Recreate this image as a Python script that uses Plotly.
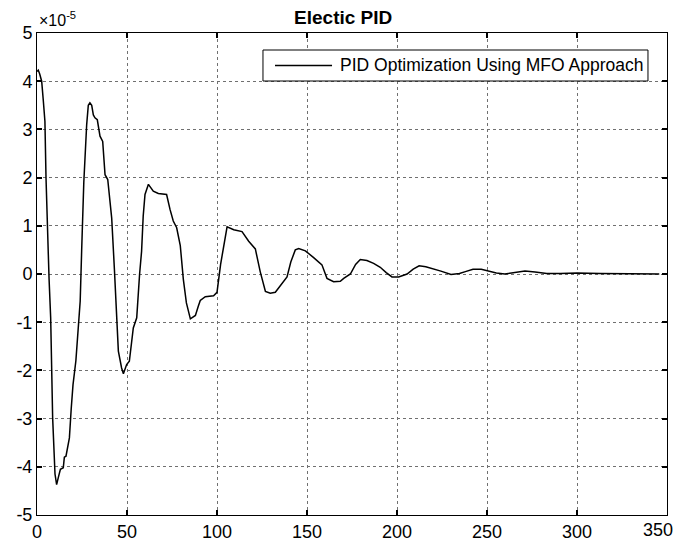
import plotly.graph_objects as go

SCALE_LABEL = "×10<sup>-5</sup>"
SERIES_NAME = "PID Optimization Using MFO Approach"
TITLE = "Electic PID"
t = [0, 0.7, 1.5, 2.6, 3.5, 4.4, 5.0, 5.7, 6.7, 7.6, 8.7, 10.0, 10.9, 12.0, 13.0, 14.6, 15.2, 16.1,
     18.0, 19.0, 20.0, 21.6, 23.0, 24.0, 24.8, 26.0, 27.6, 28.5, 29.4, 30.4, 31.3, 32.2, 33.5, 35.0,
     36.5, 37.8, 39.3, 41.5, 43.0, 45.2, 47.0, 48.0, 49.8, 51.3, 53.5, 55.4, 57.0, 58.1, 59.0, 60.0,
     61.9, 64.6, 67.4, 72.0, 73.9, 75.7, 77.6, 79.6, 81.3, 83.0, 85.2, 86.5, 88.0, 89.6, 90.7, 93.5,
     96.0, 98.1, 100.0, 102.0, 105.6, 109.3, 113.9, 117.6, 121.3, 124.0, 126.9, 129.6, 132.4, 135.2,
     138.9, 141.0, 143.5, 145.4, 149.1, 153.7, 158.3, 161.1, 164.8, 168.5, 170.4, 174.1, 177.0, 179.6,
     183.3, 187.0, 190.7, 194.0, 197.2, 200.9, 205.6, 209.0, 212.3, 216.0, 220.0, 224.4, 230.0, 234.7,
     238.0, 242.2, 246.8, 250.6, 255.2, 259.9, 264.6, 271.1, 276.7, 283.2, 290.7, 300.0, 313.0, 331.7,
     345.7]
y = [4.2, 4.23, 4.15, 4.0, 3.6, 3.17, 2.0, 0.89, -0.1, -0.91, -2.99, -4.15, -4.37, -4.2, -4.05, -4.02,
     -3.8, -3.78, -3.4, -2.8, -2.3, -1.8, -1.0, -0.56, 0.47, 1.9, 3.1, 3.5, 3.55, 3.5, 3.3, 3.24, 3.2,
     2.86, 2.75, 2.06, 1.96, 1.16, 0.1, -1.6, -1.95, -2.07, -1.88, -1.81, -1.12, -0.91, 0.0, 0.47, 1.2,
     1.65, 1.86, 1.72, 1.67, 1.65, 1.34, 1.1, 0.96, 0.59, -0.11, -0.6, -0.93, -0.9, -0.86, -0.67, -0.55,
     -0.47, -0.46, -0.45, -0.38, 0.2, 0.98, 0.92, 0.88, 0.68, 0.52, 0.05, -0.36, -0.4, -0.38, -0.24,
     -0.06, 0.25, 0.5, 0.53, 0.48, 0.34, 0.19, -0.09, -0.16, -0.15, -0.09, 0.0, 0.2, 0.3, 0.28, 0.22,
     0.14, 0.03, -0.06, -0.06, 0.0, 0.1, 0.17, 0.15, 0.11, 0.06, -0.01, 0.01, 0.05, 0.10, 0.10, 0.07,
     0.02, 0.0, 0.03, 0.06, 0.04, 0.01, 0.01, 0.02, 0.01, 0.01, 0.0]
x_ticks = [0, 50, 100, 150, 200, 250, 300, 350]
x_tick_labels = ["0", "50", "100", "150", "200", "250", "300", "350"]
y_ticks = [-5, -4, -3, -2, -1, 0, 1, 2, 3, 4, 5]
y_tick_labels = ["-5", "-4", "-3", "-2", "-1", "0", "1", "2", "3", "4", "5"]

FONT = "Liberation Sans, Arial, sans-serif"

fig = go.Figure()
fig.add_trace(go.Scatter(x=t, y=y, mode="lines", line=dict(color="black", width=1.5),
                         name=SERIES_NAME, showlegend=False))

axis_common = dict(showline=True, linecolor="black", linewidth=1, mirror="ticks",
                   ticks="inside", ticklen=5, tickcolor="black", tickwidth=1.5,
                   showgrid=True, gridcolor="#707070", griddash="dot", gridwidth=1,
                   zeroline=False, automargin=False,
                   tickfont=dict(family=FONT, size=18, color="black"))

# last x label is drawn separately, nudged left (as MATLAB does) to stay inside the window
x_text = x_tick_labels[:-1] + [""]
fig.update_xaxes(range=[0, 350], tickvals=x_ticks, ticktext=x_text, **axis_common)
fig.update_yaxes(range=[-5, 5], tickvals=y_ticks, ticktext=y_tick_labels, **axis_common)

# legend box drawn like the MATLAB legend (box, long line sample, label)
legend_shapes = [
    dict(type="rect", xref="paper", yref="paper", x0=0.3587, x1=0.9698, y0=0.9004, y1=0.9647,
         line=dict(color="black", width=1), fillcolor="white", layer="above"),
    dict(type="line", xref="paper", yref="paper", x0=0.3778, x1=0.4683, y0=0.9326, y1=0.9326,
         line=dict(color="black", width=1.5), layer="above"),
]

# page body has an 8px margin, so the figure is sized to fit the 683x550 window
fig.update_layout(
    width=675, height=534,
    margin=dict(l=29, r=16, t=25, b=27),
    paper_bgcolor="white", plot_bgcolor="white",
    title=dict(text="<b>" + TITLE + "</b>", x=0.486, xref="paper", xanchor="center",
               y=0.995, yref="container", yanchor="top",
               font=dict(family=FONT, size=19, color="black")),
    showlegend=False,
    shapes=legend_shapes,
    annotations=[
        dict(text=SCALE_LABEL, xref="paper", yref="paper", x=0, y=1.0,
             xanchor="left", yanchor="bottom", showarrow=False, yshift=2,
             font=dict(family=FONT, size=16, color="black")),
        dict(text=SERIES_NAME, xref="paper", yref="paper", x=0.4778, y=0.9326,
             xanchor="left", yanchor="middle", showarrow=False,
             font=dict(family=FONT, size=17.5, color="black")),
        dict(text=x_tick_labels[-1], xref="x", yref="paper", x=x_ticks[-1], y=0,
             xanchor="right", yanchor="middle", xshift=8, yshift=-15, showarrow=False,
             font=dict(family=FONT, size=18, color="black")),
    ],
)

fig.write_html("out.html")
